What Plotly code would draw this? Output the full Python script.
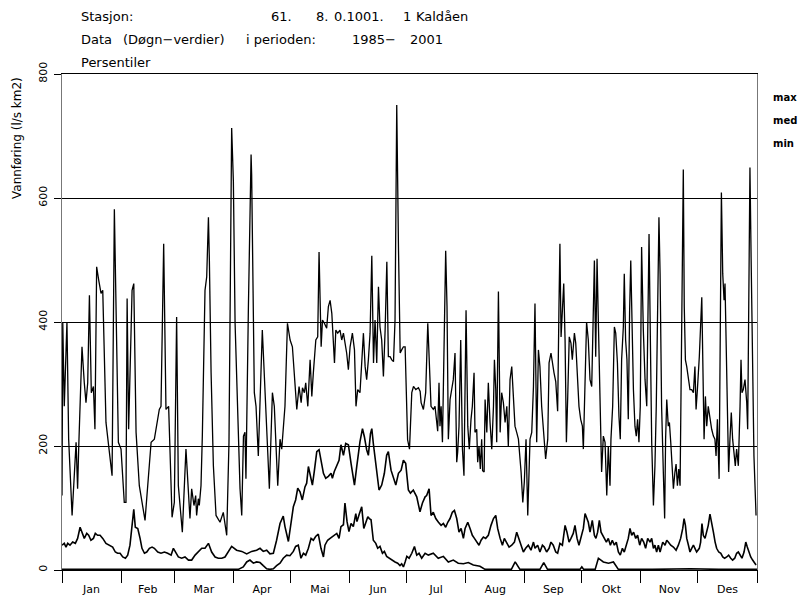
import plotly.graph_objects as go

# ---------------- data (day of year, value in l/s km2) ----------------
month_names = ["Jan", "Feb", "Mar", "Apr", "Mai", "Jun", "Jul", "Aug", "Sep", "Okt", "Nov", "Des"]
month_starts = [0, 31, 59, 90, 120, 151, 181, 212, 243, 273, 304, 334, 365]
y_ticks = [0, 200, 400, 600, 800]

max_points = [
    (0, 120), (0.4, 400), (1.2, 264), (2.6, 400), (3.5, 211), (5.3, 88), (7.4, 206), (8.2, 131), (8.8, 200),
    (10.5, 360), (11.7, 302), (12.6, 270), (13.5, 302), (14.4, 443), (15.4, 286), (16.5, 296), (17.3, 227),
    (18.2, 489), (19.3, 467), (20.5, 446), (21.4, 451), (23.1, 238), (26.3, 152), (27.5, 582), (29.6, 206),
    (31, 195), (32.7, 109), (33.6, 109), (34.2, 438), (35, 227), (36.8, 451), (37.7, 462), (38.9, 222),
    (40.6, 136), (43.6, 80), (46.8, 206), (48.5, 211), (51.1, 259), (52, 264), (53.4, 526), (54.6, 259),
    (56, 264), (57.8, 85), (59, 109), (60.2, 408), (61.1, 136), (63.2, 61), (65.1, 195), (67.2, 83),
    (68.1, 131), (69.3, 104), (70.2, 120), (70.7, 88), (71.6, 115), (72.1, 104), (73, 136), (73.7, 216),
    (75.1, 451), (76, 473), (76.9, 569), (77.4, 499), (78.3, 318), (79.5, 168), (80.9, 88), (83, 77),
    (84.7, 93), (86.5, 56), (87.7, 206), (89.1, 713), (90, 627), (90.9, 398), (92.3, 238), (93.5, 131),
    (94.4, 88), (95.3, 216), (96.1, 222), (96.6, 147), (97.9, 425), (99.3, 670), (99.6, 638), (100.5, 398),
    (101, 286), (101.9, 264), (103.1, 184), (105.2, 387), (108.9, 131), (110.5, 286), (111.5, 264),
    (113.3, 136), (114.5, 211), (115.4, 195), (117.1, 264), (118.4, 398), (119.8, 371), (121, 360),
    (122.4, 291), (123.3, 259), (124.5, 296), (125.6, 270), (126.3, 294), (127.3, 286), (128, 302),
    (129.1, 264), (130.3, 339), (131.2, 280), (132, 318), (133.3, 371), (134.3, 376), (135, 513),
    (136.1, 360), (136.8, 403), (137.8, 398), (139, 390), (139.9, 425), (140.8, 435), (141.7, 414),
    (143.1, 334), (143.8, 387), (144.8, 382), (146, 387), (146.9, 371), (147.8, 382), (148.7, 366),
    (149.5, 350), (150.4, 323), (151.3, 360), (152.5, 382), (153.6, 355), (154.4, 264), (155.3, 291),
    (156.5, 286), (157.4, 334), (158.3, 382), (159.2, 328), (160, 307), (160.9, 339), (161.8, 382),
    (162.7, 507), (163.6, 334), (164.4, 403), (165.3, 334), (166.2, 457), (167, 392), (167.9, 371),
    (168.8, 312), (169.7, 387), (170.6, 497), (171.4, 344), (172.3, 344), (173.2, 339), (174.1, 336),
    (174.9, 403), (175.8, 750), (176.7, 521), (177.6, 350), (178.4, 355), (179.3, 360), (180.2, 360),
    (181.5, 210), (182.5, 195), (183.7, 286), (184.6, 296), (185.8, 291), (187.2, 294), (188.1, 288),
    (188.6, 270), (189.8, 259), (191, 286), (192.1, 398), (192.8, 344), (193.8, 264), (195, 259),
    (195.9, 264), (197.3, 224), (198, 302), (198.5, 232), (199.1, 264), (199.8, 206), (200.8, 425),
    (201.5, 515), (202.2, 425), (202.9, 211), (203.8, 275), (204.7, 291), (205.5, 307), (206.4, 350),
    (207.3, 174), (207.8, 190), (208.5, 232), (209.4, 371), (210.3, 195), (211.1, 152), (211.7, 286),
    (212.2, 419), (213.1, 232), (213.9, 195), (214.8, 243), (215.5, 264), (216.4, 318), (216.9, 222),
    (217.8, 227), (218.3, 174), (219, 200), (219.7, 163), (220.4, 211), (220.9, 160), (221.7, 158),
    (222.2, 275), (223.1, 222), (223.9, 302), (224.8, 238), (225.7, 195), (226.6, 264), (227.1, 339),
    (227.8, 291), (228.3, 206), (229.2, 449), (230.1, 222), (230.9, 286), (231.8, 270), (232.7, 238),
    (233.6, 264), (234.4, 200), (235.3, 307), (236.2, 328), (237.1, 286), (237.9, 232), (238.8, 222),
    (239.7, 211), (241.1, 158), (242, 109), (242.8, 142), (243.7, 211), (244.6, 88), (245.8, 211),
    (246.7, 222), (247.6, 296), (248.4, 430), (249.3, 206), (250.2, 355), (251, 328), (251.9, 264),
    (252.8, 227), (254, 179), (255.1, 211), (255.8, 334), (256.8, 350), (257.5, 334), (258.4, 318),
    (259.3, 304), (260.3, 256), (261, 425), (261.5, 526), (262.1, 376), (262.8, 425), (263.5, 462),
    (264.2, 371), (264.9, 206), (265.6, 280), (266.4, 376), (267.3, 366), (268, 339), (269.1, 382),
    (269.8, 366), (270.6, 318), (271.5, 264), (272.4, 243), (273.3, 232), (273.8, 195), (274.7, 291),
    (275.5, 400), (276.4, 371), (277.3, 307), (278.2, 296), (279, 403), (279.6, 499), (280.3, 344),
    (281, 502), (281.7, 398), (282.6, 264), (283.1, 206), (283.4, 158), (284.3, 216), (285.2, 206),
    (286.1, 120), (286.9, 200), (287.8, 136), (288.3, 211), (289.2, 264), (290.1, 392), (290.8, 382),
    (291.7, 334), (292.5, 248), (293.2, 211), (293.9, 339), (294.8, 392), (295.3, 478), (296, 371),
    (296.7, 339), (297.4, 243), (298.1, 419), (298.7, 499), (299.2, 425), (300.1, 291), (300.9, 232),
    (301.6, 216), (302.3, 243), (303, 206), (303.7, 264), (304.4, 521), (305.3, 387), (306.2, 307),
    (307.1, 264), (307.6, 425), (308.3, 542), (309, 371), (309.7, 206), (310.6, 104), (311.4, 168),
    (312.1, 264), (312.8, 425), (313.5, 569), (314.1, 478), (314.4, 334), (314.9, 264), (315.8, 158),
    (316.5, 83), (317, 211), (317.6, 275), (318.4, 232), (319, 238), (319.7, 206), (320.4, 168),
    (321.1, 131), (321.9, 158), (322.5, 171), (323.2, 136), (323.9, 163), (324.6, 136), (325.4, 344),
    (326.3, 646), (326.8, 425), (327.4, 339), (328.1, 328), (329, 307), (329.8, 291), (330.7, 291),
    (331.6, 286), (332.4, 328), (333, 259), (333.7, 291), (334.7, 344), (336, 440), (336.5, 344),
    (337.2, 211), (337.9, 280), (338.6, 232), (339.4, 264), (340.3, 243), (341.2, 227), (342.1, 216),
    (342.9, 211), (343.5, 184), (344.2, 243), (345.1, 147), (345.6, 371), (346.3, 609), (347, 478),
    (347.7, 435), (348.2, 462), (348.7, 371), (349.4, 238), (350.1, 158), (350.8, 211), (351.5, 254),
    (352.2, 211), (352.9, 184), (353.6, 168), (354.3, 195), (355.2, 168), (356.1, 264), (356.6, 339),
    (357.1, 286), (357.8, 291), (358.7, 307), (359.6, 270), (360.1, 227), (360.8, 478), (361.3, 649),
    (361.9, 505), (362.6, 328), (363.4, 184), (364.5, 88),
]

med_points = [
    (0, 40), (1.2, 43), (2.1, 37), (3, 43), (4.2, 40), (5.6, 45), (7, 43), (8.2, 51), (9.5, 69), (10.9, 59),
    (11.7, 51), (13, 59), (14, 56), (15.2, 48), (16.5, 51), (17.5, 59), (18.7, 56), (20, 56), (21.4, 51),
    (23.1, 43), (24.9, 40), (26.6, 37), (28, 29), (29.2, 27), (30.5, 27), (31.9, 21), (33.3, 19), (34.5, 24),
    (35.7, 40), (36.8, 72), (37.7, 98), (38.5, 69), (39.8, 67), (41, 51), (42, 35), (43.3, 27), (44.5, 29),
    (45.9, 35), (47.3, 37), (48.5, 35), (50.3, 29), (52, 27), (53.8, 29), (55.5, 27), (57.3, 24), (58.5, 35),
    (59.5, 29), (61.1, 21), (62.8, 19), (64.6, 21), (66.4, 16), (68.1, 16), (69.9, 24), (71.6, 29),
    (73.4, 35), (75.1, 35), (76.9, 43), (78.6, 29), (80.4, 21), (82.1, 19), (83.9, 19), (85.6, 21),
    (89.1, 38), (91.7, 32), (94.4, 30), (97, 26), (99.6, 30), (102.2, 32), (104, 35), (105.7, 30),
    (107.5, 32), (109.2, 26), (111, 27), (112.7, 48), (114.5, 75), (116.2, 87), (117.1, 70), (118.9, 46),
    (120.6, 81), (121.5, 102), (122.7, 113), (123.8, 132), (125, 126), (126.2, 113), (127.6, 134),
    (128.5, 140), (129.4, 167), (130.3, 153), (131.5, 137), (132.5, 159), (133.8, 191), (135, 194),
    (136, 177), (137.3, 156), (138.5, 148), (139.9, 151), (141.3, 156), (142, 148), (143, 159), (144.3, 169),
    (145.5, 177), (146.5, 202), (147.8, 185), (149, 204), (150.4, 202), (151.8, 172), (153.6, 137),
    (154.8, 167), (156.5, 207), (157.8, 228), (158.8, 215), (160, 194), (160.9, 185), (162, 220),
    (162.7, 228), (163.5, 204), (164.8, 172), (165.8, 151), (166.5, 129), (167.9, 137), (169.3, 156),
    (170.5, 185), (171.4, 191), (172.8, 161), (174, 151), (175.3, 137), (176.7, 156), (178.1, 161),
    (179.3, 177), (180.5, 172), (181.9, 129), (183, 124), (184.5, 129), (186.3, 118), (188, 94),
    (189.3, 108), (190.7, 118), (191.5, 120), (192.8, 131), (193.8, 88), (195, 93), (196.3, 83),
    (197.7, 77), (199.1, 72), (200.3, 75), (201.5, 69), (202.6, 77), (203.8, 83), (205, 93), (206.1, 96),
    (207.3, 83), (208.5, 61), (209.6, 67), (210.8, 51), (211.7, 67), (213.1, 77), (214.3, 67), (215.5, 56),
    (216.6, 51), (217.8, 45), (219, 40), (220.1, 48), (221.3, 53), (222.5, 51), (223.9, 56), (225.3, 72),
    (226.6, 83), (227.8, 88), (228.8, 67), (230.1, 51), (231.3, 40), (232.3, 51), (233.6, 43), (234.8, 37),
    (236.2, 40), (237.6, 45), (238.8, 61), (240, 51), (241.1, 40), (242.3, 29), (243.5, 35), (244.9, 40),
    (246.3, 32), (247.6, 45), (248.4, 35), (249.8, 40), (251, 29), (252.3, 40), (253.3, 37), (254.5, 29),
    (255.8, 35), (256.8, 45), (258, 40), (259.3, 29), (260.3, 27), (261.5, 43), (262.8, 40), (264.2, 72),
    (265.2, 61), (266.3, 45), (267.3, 51), (268.5, 59), (269.4, 72), (270.5, 51), (271.5, 40), (272.6, 51),
    (273.8, 67), (274.7, 91), (275.5, 83), (276.4, 77), (277.3, 61), (278.5, 80), (279.6, 56), (280.4, 51),
    (281.3, 61), (282.2, 80), (283.1, 61), (283.9, 56), (284.8, 51), (285.9, 45), (286.9, 51), (288, 40),
    (289, 48), (290.1, 40), (291.1, 45), (292.2, 29), (293.2, 24), (294.3, 35), (295.3, 29), (296.4, 40),
    (297.4, 51), (298.3, 67), (299.2, 56), (300.2, 61), (301.3, 51), (302.3, 56), (303.4, 40), (304.4, 51),
    (305.5, 45), (306.5, 35), (307.6, 51), (308.8, 45), (309.7, 51), (310.6, 35), (311.4, 40), (312.3, 29),
    (313.2, 40), (314.1, 29), (315.5, 45), (316.7, 40), (317.6, 48), (318.4, 45), (319.7, 40), (321.1, 37),
    (322.5, 32), (323.7, 40), (324.9, 51), (326, 67), (326.7, 83), (327.4, 72), (328.1, 51), (329, 40),
    (329.8, 29), (330.7, 35), (331.6, 40), (332.4, 35), (333.3, 29), (334.7, 35), (335.4, 45), (336.1, 75),
    (336.8, 56), (337.7, 51), (338.6, 61), (339.4, 72), (340.3, 90), (341.2, 77), (342.1, 61), (343, 45),
    (343.8, 35), (344.9, 29), (346, 27), (347, 21), (348, 19), (349.1, 21), (350.1, 24), (351.2, 19),
    (352.2, 16), (353.3, 19), (354.3, 27), (355.2, 29), (356.1, 24), (357.1, 19), (358.2, 29), (359.1, 45),
    (359.9, 37), (360.8, 29), (361.7, 21), (362.7, 16), (363.8, 11), (364.5, 8),
]

min_points = [
    (0, 1), (20, 1), (40, 2), (60, 1), (80, 2), (92.6, 1), (95.2, 5), (97, 13), (98.7, 16), (100.5, 11),
    (102.2, 13), (104, 12), (105.7, 7), (107.5, 2), (109.2, 1), (111, 2), (112.7, 7), (114.5, 11),
    (116.2, 19), (118, 24), (119.7, 23), (121.5, 30), (122.7, 38), (124.1, 40), (125.5, 19), (126.8, 27),
    (128, 24), (129.4, 35), (130.8, 51), (132, 48), (133.2, 54), (134.6, 58), (136, 35), (137.3, 21),
    (138.1, 40), (139.5, 48), (140.8, 51), (142, 54), (143.4, 57), (144.3, 59), (145.5, 51), (146.5, 70),
    (147.8, 73), (148.6, 108), (149.7, 78), (150.7, 62), (151.8, 75), (153, 70), (154.3, 91), (154.9, 78),
    (156, 89), (157.4, 102), (158.5, 67), (159.5, 75), (160.6, 86), (161.4, 83), (162.3, 81), (163.5, 48),
    (164.8, 43), (165.8, 35), (167, 38), (168.3, 27), (169.3, 30), (170.5, 22), (171.8, 19), (173.2, 16),
    (174.9, 13), (176.3, 11), (177.5, 7), (178.4, 10), (179.3, 5), (180.2, 13), (181.1, 22), (182.3, 19),
    (183.7, 27), (185.1, 38), (186.3, 24), (187.5, 27), (188.9, 19), (190.7, 27), (192.4, 24), (195, 27),
    (197.6, 19), (200.3, 22), (202.9, 13), (205.5, 16), (208.1, 11), (210.8, 10), (213.4, 12), (216, 8),
    (219.5, 6), (222.2, 1), (236, 1), (238, 13), (240.5, 1), (251, 1), (253, 12), (255, 1), (272, 1),
    (273, 5), (274, 1), (280, 1), (281.7, 19), (284.3, 13), (287, 11), (289.6, 13), (292.2, 1), (310, 1),
    (330, 2), (345, 1), (365, 1),
]

# header pieces: (page x, page y, text)
header_pieces = [
    (80, 17, "Stasjon:"),
    (270, 17, "61."),
    (315, 17, "8."),
    (333, 17, "0.1001."),
    (402, 17, "1"),
    (415, 17, "Kaldåen"),
    (80, 40, "Data"),
    (122, 40, "(Døgn\u2212verdier)"),
    (245, 40, "i perioden:"),
    (351, 40, "1985\u2212"),
    (409, 40, "2001"),
    (80, 62, "Persentiler"),
]
y_title = "Vannføring (l/s km2)"
legend_labels = ["max", "med", "min"]

# ---------------- figure ----------------
OFF = 8                      # page body margin of the html page
WIN_W, WIN_H = 807, 597
W, H = WIN_W - OFF, WIN_H - OFF
PL, PR, PT, PB = 62, 757, 74, 570    # plot area in page pixels
L, R, T, B = PL - OFF, W - (PR - OFF), PT - OFF, H - (PB - OFF)
pw, ph = W - L - R, H - T - B


def px(x):
    return (x - PL) / pw


def py(y):
    return (PB - y) / ph


FONT = "DejaVu Sans"
fig = go.Figure()
for pts, w in [(max_points, 1.3), (med_points, 1.6), (min_points, 1.6)]:
    fig.add_trace(go.Scatter(
        x=[p[0] for p in pts], y=[p[1] for p in pts], mode="lines",
        line=dict(color="black", width=w), showlegend=False, hoverinfo="skip"))

month_mids = [(month_starts[i] + month_starts[i + 1]) / 2 for i in range(12)]

fig.update_layout(
    width=W, height=H, margin=dict(l=L, r=R, t=T, b=B, autoexpand=False),
    paper_bgcolor="white", plot_bgcolor="white",
    font=dict(family=FONT, size=11, color="black"),
    xaxis=dict(range=[0, 365], tickmode="array", tickvals=month_mids, ticktext=month_names,
               ticks="outside", ticklen=9, tickcolor="rgba(0,0,0,0)", showgrid=False, zeroline=False,
               showline=True, linecolor="black", linewidth=1.2, mirror=True, automargin=False,
               minor=dict(tickmode="array", tickvals=month_starts, ticks="outside", ticklen=12,
                          tickcolor="black", tickwidth=1.2, showgrid=False),
               tickfont=dict(family=FONT, size=11)),
    yaxis=dict(range=[0, 800], tickmode="array", tickvals=y_ticks, ticks="outside", ticklen=7,
               tickcolor="black", tickangle=-90, showgrid=True, gridcolor="black", gridwidth=1,
               zeroline=False, showline=True, linecolor="#777", linewidth=1, mirror=True,
               automargin=False, ticklabelstandoff=3,
               tickfont=dict(family=FONT, size=11)),
)

for x, y, t in header_pieces:
    fig.add_annotation(x=px(x), y=py(y), xref="paper", yref="paper", text=t, showarrow=False,
                       xanchor="left", yanchor="middle", xshift=-1, font=dict(family=FONT, size=13))

fig.add_annotation(x=px(17), y=py(138), xref="paper", yref="paper", text=y_title, showarrow=False,
                   textangle=-90, xanchor="center", yanchor="middle", font=dict(family=FONT, size=12))

for i, lab in enumerate(legend_labels):
    fig.add_annotation(x=px(771), y=py(97 + 23 * i), xref="paper", yref="paper", text="<b>" + lab + "</b>",
                       showarrow=False, xanchor="left", yanchor="middle", font=dict(family=FONT, size=10))

fig.write_html("out.html")
